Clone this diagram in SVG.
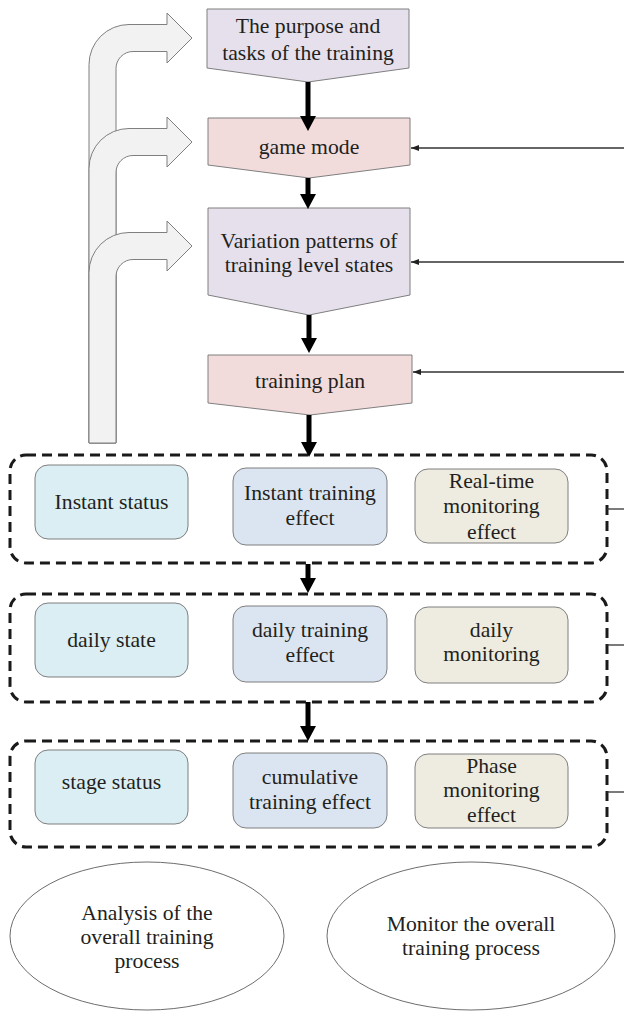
<svg xmlns="http://www.w3.org/2000/svg" width="624" height="1012" viewBox="0 0 624 1012">
<style>
  text { font-family: "Liberation Serif", "Times New Roman", serif; font-size: 21.7px; fill: #231f20; text-anchor: middle; }
  .lav { fill: #e6e0ec; stroke: #7f7f7f; stroke-width: 1; }
  .pink { fill: #f2dcdb; stroke: #7f7f7f; stroke-width: 1; }
  .bent { fill: #f2f2f2; stroke: #7f7f7f; stroke-width: 1; }
  .c1 { fill: #daeef3; stroke: #7f7f7f; stroke-width: 1; }
  .c2 { fill: #dbe5f1; stroke: #7f7f7f; stroke-width: 1; }
  .c3 { fill: #eeece1; stroke: #7f7f7f; stroke-width: 1; }
  .dash { fill: none; stroke: #1a1a1a; stroke-width: 3; stroke-dasharray: 10 6; }
  .ell { fill: #ffffff; stroke: #6d6d6d; stroke-width: 1; }
  .thick { stroke: #000; stroke-width: 5; fill: none; }
  .thin { stroke: #333; stroke-width: 1.3; fill: none; }
</style>
<defs>
  <marker id="bigHead" viewBox="0 0 15 16" refX="0" refY="8" markerWidth="15" markerHeight="16" markerUnits="userSpaceOnUse" orient="auto">
    <path d="M0,0 L15,8 L0,16 Z" fill="#000"/>
  </marker>
  <marker id="smallHead" viewBox="0 0 8 6" refX="8" refY="3" markerWidth="8" markerHeight="6" markerUnits="userSpaceOnUse" orient="auto">
    <path d="M0,0 L8,3 L0,6 Z" fill="#222"/>
  </marker>
</defs>

<g id="feedback-arrows">
  <path class="bent" d="M89 443 L89 64.5 A40 40 0 0 1 129 24.5 L167 24.5 L167 13 L192 38 L167 63 L167 51.5 L133 51.5 A17 17 0 0 0 116 68.5 L116 443 Z"/>
  <path class="bent" d="M89 443 L89 168.5 A40 40 0 0 1 129 128.5 L167 128.5 L167 117 L192 142 L167 167 L167 155.5 L133 155.5 A17 17 0 0 0 116 172.5 L116 443 Z"/>
  <path class="bent" d="M89 443 L89 272.5 A40 40 0 0 1 129 232.5 L167 232.5 L167 221 L192 246 L167 271 L167 259.5 L133 259.5 A17 17 0 0 0 116 276.5 L116 443 Z"/>
</g>

<g id="node-purpose">
  <path class="lav" d="M207 9 L409 9 L409 68 L308 82 L207 68 Z"/>
  <text x="308" y="33">The purpose and</text>
  <text x="308" y="60">tasks of the training</text>
</g>
<g id="node-game-mode">
  <path class="pink" d="M208 118 L410 118 L410 165 L309 178 L208 165 Z"/>
  <text x="309" y="154">game mode</text>
</g>
<g id="node-variation">
  <path class="lav" d="M208 208 L410 208 L410 295 L309 315 L208 295 Z"/>
  <text x="309" y="248">Variation patterns of</text>
  <text x="309" y="272">training level states</text>
</g>
<g id="node-plan">
  <path class="pink" d="M208 355 L412 355 L412 403 L310 415 L208 403 Z"/>
  <text x="310" y="388">training plan</text>
</g>

<g id="group-instant">
  <rect class="dash" x="10" y="455" width="597" height="108" rx="16"/>
  <g id="node-instant-status">
    <rect class="c1" x="35" y="465" width="153" height="74" rx="13"/>
    <text x="111.5" y="509">Instant status</text>
  </g>
  <g id="node-instant-effect">
    <rect class="c2" x="233" y="468" width="154" height="77" rx="13"/>
    <text x="310" y="500">Instant training</text>
    <text x="310" y="525">effect</text>
  </g>
  <g id="node-realtime">
    <rect class="c3" x="415" y="469" width="153" height="74" rx="13"/>
    <text x="491.5" y="488">Real-time</text>
    <text x="491.5" y="513">monitoring</text>
    <text x="491.5" y="539">effect</text>
  </g>
</g>

<g id="group-daily">
  <rect class="dash" x="10" y="594" width="597" height="108" rx="16"/>
  <g id="node-daily-state">
    <rect class="c1" x="35" y="603" width="153" height="74" rx="13"/>
    <text x="111.5" y="647">daily state</text>
  </g>
  <g id="node-daily-effect">
    <rect class="c2" x="233" y="606" width="154" height="76" rx="13"/>
    <text x="310" y="637">daily training</text>
    <text x="310" y="662">effect</text>
  </g>
  <g id="node-daily-monitoring">
    <rect class="c3" x="415" y="607" width="153" height="76" rx="13"/>
    <text x="491.5" y="637">daily</text>
    <text x="491.5" y="661">monitoring</text>
  </g>
</g>

<g id="group-stage">
  <rect class="dash" x="10" y="741" width="597" height="106" rx="16"/>
  <g id="node-stage-status">
    <rect class="c1" x="35" y="750" width="153" height="74" rx="13"/>
    <text x="111.5" y="789">stage status</text>
  </g>
  <g id="node-cumulative">
    <rect class="c2" x="233" y="753" width="154" height="75" rx="13"/>
    <text x="310" y="784">cumulative</text>
    <text x="310" y="809">training effect</text>
  </g>
  <g id="node-phase">
    <rect class="c3" x="415" y="754" width="153" height="74" rx="13"/>
    <text x="491.5" y="773">Phase</text>
    <text x="491.5" y="797">monitoring</text>
    <text x="491.5" y="822">effect</text>
  </g>
</g>

<g id="node-analysis">
  <ellipse class="ell" cx="147" cy="936" rx="137" ry="74"/>
  <text x="147" y="920">Analysis of the</text>
  <text x="147" y="944">overall training</text>
  <text x="147" y="968">process</text>
</g>
<g id="node-monitor">
  <ellipse class="ell" cx="471" cy="936" rx="144" ry="74"/>
  <text x="471" y="931">Monitor the overall</text>
  <text x="471" y="955">training process</text>
</g>

<g id="connectors">
  <line class="thick" x1="308" y1="82" x2="308" y2="116" marker-end="url(#bigHead)"/>
  <line class="thick" x1="308" y1="178" x2="308" y2="194" marker-end="url(#bigHead)"/>
  <line class="thick" x1="309" y1="315" x2="309" y2="338" marker-end="url(#bigHead)"/>
  <line class="thick" x1="309" y1="415" x2="309" y2="442" marker-end="url(#bigHead)"/>
  <line class="thick" x1="308" y1="564" x2="308" y2="578" marker-end="url(#bigHead)"/>
  <line class="thick" x1="308" y1="702" x2="308" y2="726" marker-end="url(#bigHead)"/>
  <line class="thin" x1="624" y1="148" x2="411" y2="148" marker-end="url(#smallHead)"/>
  <line class="thin" x1="624" y1="262" x2="411" y2="262" marker-end="url(#smallHead)"/>
  <line class="thin" x1="624" y1="372" x2="413" y2="372" marker-end="url(#smallHead)"/>
  <line class="thin" x1="607" y1="509" x2="624" y2="509"/>
  <line class="thin" x1="607" y1="645" x2="624" y2="645"/>
  <line class="thin" x1="607" y1="792" x2="624" y2="792"/>
</g>
</svg>
